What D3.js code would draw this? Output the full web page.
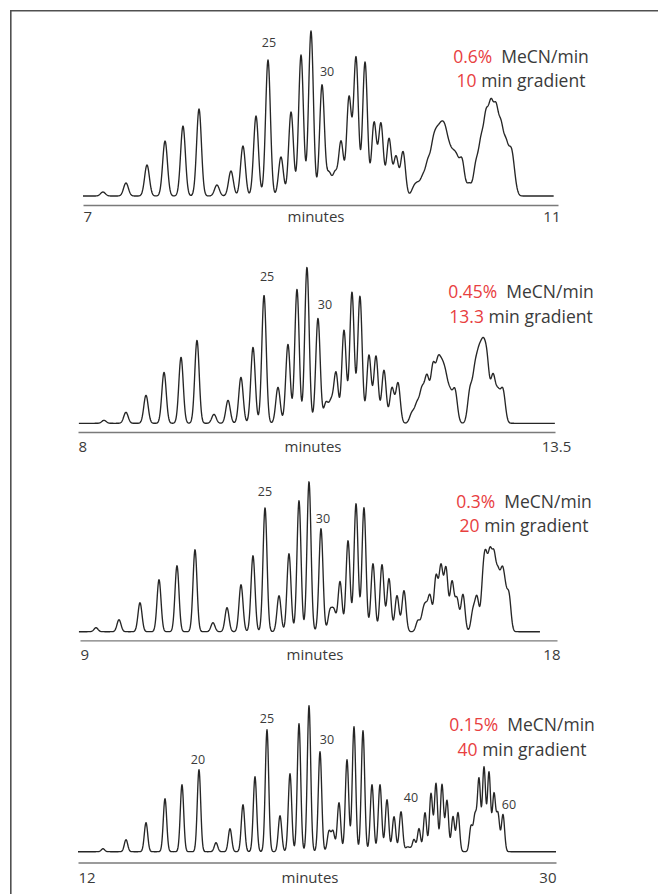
<!DOCTYPE html>
<html><head><meta charset="utf-8">
<script src="https://cdn.jsdelivr.net/npm/d3@7"></script>
<style>body{margin:0;background:#fff} svg{display:block}</style>
</head><body>
<svg id="chart" width="658" height="894"></svg>
<script>
// ---------------- DATA (minutes / detector response, arbitrary units) ----------------
const run1Domain = [7, 11];
const run1Trace = [7.0, 10.964];
const run1PeakTimes = [7.168, 7.362, 7.539, 7.691, 7.842, 7.977, 8.128, 8.246, 8.347, 8.457, 8.558, 8.667, 8.752, 8.836, 8.920, 9.013, 9.072, 9.122, 9.173, 9.240, 9.299, 9.375, 9.451, 9.509, 9.577, 9.636, 9.695];
const run1PeakHeights = [4, 13, 31, 55, 70, 87, 11, 25, 50, 80, 136, 39, 84, 141, 165, 111, 22, 22, 54, 98, 138, 134, 73, 72, 57, 39, 44];
const run1PeakWidth = 0.0202;
const run1ClusterTimes = [9.787, 9.821, 9.863, 9.905, 9.947, 9.981, 10.015, 10.048, 10.082, 10.116, 10.149, 10.192, 10.251, 10.309, 10.352, 10.394, 10.436, 10.478, 10.520, 10.562, 10.604, 10.629];
const run1ClusterHeights = [8, 10, 17, 30, 42, 45, 48, 48, 34, 29, 29, 34, 12, 30, 48, 70, 78, 75, 60, 45, 36, 14];
const run1ClusterWidth = 0.021;
const run1LabelText = ["25", "30"];
const run1LabelTimes = [8.558, 9.013];

const run2Domain = [8, 13.5];
const run2Trace = [8.01, 13.5];
const run2PeakTimes = [8.300, 8.553, 8.784, 8.992, 9.188, 9.372, 9.568, 9.730, 9.879, 10.018, 10.145, 10.306, 10.421, 10.525, 10.640, 10.767, 10.859, 10.917, 10.975, 11.067, 11.159, 11.251, 11.355, 11.436, 11.528, 11.620, 11.690];
const run2PeakHeights = [3, 11, 28, 51, 66, 83, 9, 23, 46, 76, 128, 36, 79, 134, 156, 105, 20, 20, 50, 93, 131, 127, 68, 67, 53, 35, 40];
const run2PeakWidth = 0.0254;
const run2ClusterTimes = [11.851, 11.909, 11.966, 12.024, 12.093, 12.151, 12.197, 12.240, 12.290, 12.347, 12.520, 12.577, 12.624, 12.670, 12.716, 12.785, 12.843, 12.900];
const run2ClusterHeights = [10, 18, 31, 44, 54, 52, 42, 36, 26, 32, 32, 46, 54, 60, 56, 45, 28, 32];
const run2ClusterWidth = 0.027;
const run2LabelText = ["25", "30"];
const run2LabelTimes = [10.145, 10.767];

const run3Domain = [9, 18];
const run3Trace = [8.98, 17.68];
const run3PeakTimes = [9.302, 9.736, 10.132, 10.491, 10.830, 11.170, 11.509, 11.774, 12.038, 12.264, 12.491, 12.755, 12.943, 13.132, 13.321, 13.547, 13.717, 13.792, 13.906, 14.057, 14.208, 14.358, 14.528, 14.698, 14.830, 14.981, 15.113];
const run3PeakHeights = [4, 12, 29, 52, 66, 82, 9, 24, 47, 76, 124, 36, 78, 131, 150, 103, 20, 20, 50, 91, 128, 124, 68, 67, 53, 36, 41];
const run3PeakWidth = 0.0377;
const run3ClusterTimes = [15.377, 15.472, 15.528, 15.604, 15.717, 15.811, 15.906, 16.019, 16.113, 16.226, 16.415, 16.491, 16.604, 16.660, 16.736, 16.811, 16.887, 16.962, 17.019, 17.094];
const run3ClusterHeights = [11, 16, 20, 34, 54, 63, 62, 49, 32, 37, 20, 33, 45, 58, 68, 66, 50, 48, 33, 35];
const run3ClusterWidth = 0.0377;
const run3LabelText = ["25", "30"];
const run3LabelTimes = [12.491, 13.547];

const run4Domain = [12, 30];
const run4Trace = [12.0, 30.0];
const run4PeakTimes = [12.941, 13.808, 14.561, 15.276, 15.916, 16.556, 17.197, 17.724, 18.213, 18.665, 19.117, 19.607, 19.983, 20.322, 20.699, 21.113, 21.452, 21.603, 21.828, 22.130, 22.393, 22.732, 23.071, 23.372, 23.636, 23.900, 24.163, 24.389, 24.502];
const run4PeakHeights = [3, 12, 29, 53, 67, 82, 9, 23, 47, 75, 122, 36, 78, 128, 146, 100, 20, 20, 49, 92, 125, 121, 67, 67, 52, 35, 40, 4, 3];
const run4PeakWidth = 0.064;
const run4ClusterTimes = [24.653, 24.841, 25.067, 25.293, 25.481, 25.707, 25.895, 26.121, 26.310, 26.799, 26.950, 27.100, 27.289, 27.477, 27.665, 27.816, 28.004];
const run4ClusterHeights = [12, 23, 39, 58, 68, 67, 51, 35, 39, 25, 35, 72, 84, 79, 57, 37, 37];
const run4ClusterWidth = 0.060;
const run4LabelText = ["20", "25", "30", "40", "60"];
const run4LabelTimes = [16.556, 19.117, 21.113, 24.163, 28.004];

const rateLabels = ["0.6%", "0.45%", "0.3%", "0.15%"];
const gradientLabels = ["10", "13.3", "20", "40"];
const rateUnit = "MeCN/min";
const gradientUnit = "min gradient";
const axisTitle = "minutes";

// ---------------- LAYOUT ----------------
const RED = "#e8403f", INK = "#262626", TXT = "#3a3a3a";
const FONT = "'Open Sans', 'Noto Sans', sans-serif";
const svg = d3.select("#chart");

// frame (top and left rules)
svg.append("line").attr("x1", 10.5).attr("x2", 658).attr("y1", 10.8).attr("y2", 10.8)
  .attr("stroke", "#505050").attr("stroke-width", 1.6);
svg.append("line").attr("x1", 10.8).attr("x2", 10.8).attr("y1", 10).attr("y2", 894)
  .attr("stroke", "#505050").attr("stroke-width", 1.6);

const runs = [
  {dom: run1Domain, trace: run1Trace, pt: run1PeakTimes, ph: run1PeakHeights, pw: run1PeakWidth,
   ct: run1ClusterTimes, ch: run1ClusterHeights, cw: run1ClusterWidth, lt: run1LabelText, lx: run1LabelTimes,
   x0: 83, x1: 558, base: 196, axisY: 205, tickY: 222, titleX: 316, lastAnchor: "end", lastDx: 2,
   annX: 521, annY1: 63, annY2: 87, off: [[1, 13], [5, 9]]},
  {dom: run2Domain, trace: run2Trace, pt: run2PeakTimes, ph: run2PeakHeights, pw: run2PeakWidth,
   ct: run2ClusterTimes, ch: run2ClusterHeights, cw: run2ClusterWidth, lt: run2LabelText, lx: run2LabelTimes,
   x0: 78, x1: 555, base: 423.3, axisY: 432, tickY: 452, titleX: 313, lastAnchor: "middle", lastDx: 1,
   annX: 521, annY1: 298, annY2: 323, off: [[3, 14], [7, 9]]},
  {dom: run3Domain, trace: run3Trace, pt: run3PeakTimes, ph: run3PeakHeights, pw: run3PeakWidth,
   ct: run3ClusterTimes, ch: run3ClusterHeights, cw: run3ClusterWidth, lt: run3LabelText, lx: run3LabelTimes,
   x0: 80, x1: 557, base: 631.7, axisY: 640.3, tickY: 660, titleX: 315, lastAnchor: "end", lastDx: 3,
   annX: 524, annY1: 508, annY2: 532, off: [[0, 12], [2, 6]]},
  {dom: run4Domain, trace: run4Trace, pt: run4PeakTimes, ph: run4PeakHeights, pw: run4PeakWidth,
   ct: run4ClusterTimes, ch: run4ClusterHeights, cw: run4ClusterWidth, lt: run4LabelText, lx: run4LabelTimes,
   x0: 78, x1: 556, base: 851.7, axisY: 862.5, tickY: 883, titleX: 310, lastAnchor: "end", lastDx: 0,
   annX: 522, annY1: 731, annY2: 756, off: [[-1, 6], [0, 7], [7, 8], [10, 10], [6, 5]]}
];

runs.forEach((r, i) => {
  const x = d3.scaleLinear().domain(r.dom).range([r.x0, r.x1]);
  const y = d3.scaleLinear().domain([0, 170]).range([r.base, r.base - 170]);
  const peaks = r.pt.map((t, k) => ({t, h: r.ph[k], w: r.pw}))
    .concat(r.ct.map((t, k) => ({t, h: r.ch[k], w: r.cw})));
  const signal = t => d3.sum(peaks, p => p.h * Math.exp(-((t - p.t) ** 2) / (2 * p.w * p.w)));
  const step = (r.dom[1] - r.dom[0]) / ((r.x1 - r.x0) * 3);
  const ts = d3.range(r.trace[0], r.trace[1] + step / 2, step);
  const pts = ts.map(t => ({t, v: signal(t)}));

  const g = svg.append("g");

  // axis
  const axis = d3.axisBottom(x).tickValues(r.dom).tickSize(0).tickSizeOuter(0).tickPadding(0)
    .tickFormat(d3.format("~g"));
  const ag = g.append("g").attr("transform", `translate(0,${r.axisY})`).call(axis);
  ag.select(".domain").attr("stroke", "#7a7a7a").attr("stroke-width", 1.3);
  ag.selectAll(".tick text")
    .attr("font-family", FONT).attr("font-size", 15).attr("fill", TXT)
    .attr("y", r.tickY - r.axisY).attr("dy", 0)
    .attr("text-anchor", (d, k) => k === 0 ? "start" : r.lastAnchor)
    .attr("dx", (d, k) => k === 0 ? 0 : r.lastDx);
  g.append("text").attr("x", r.titleX).attr("y", r.tickY)
    .attr("text-anchor", "middle").attr("font-family", FONT).attr("font-size", 15)
    .attr("fill", TXT).text(axisTitle);

  // trace
  g.append("path").datum(pts)
    .attr("d", d3.line().x(d => x(d.t)).y(d => y(d.v)))
    .attr("fill", "none").attr("stroke", INK).attr("stroke-width", 1.35)
    .attr("stroke-linejoin", "round");

  // peak labels
  r.lt.forEach((txt, k) => {
    const t = r.lx[k];
    g.append("text").attr("x", x(t) + r.off[k][0]).attr("y", y(signal(t)) - r.off[k][1])
      .attr("text-anchor", "middle").attr("font-family", FONT).attr("font-size", 12.5)
      .attr("fill", TXT).text(txt);
  });

  // annotation
  const a1 = g.append("text").attr("x", r.annX).attr("y", r.annY1).attr("text-anchor", "middle")
    .attr("font-family", FONT).attr("font-size", 17.5);
  a1.append("tspan").attr("fill", RED).text(rateLabels[i]);
  a1.append("tspan").attr("fill", TXT).attr("dx", 9).text(rateUnit);
  const a2 = g.append("text").attr("x", r.annX).attr("y", r.annY2).attr("text-anchor", "middle")
    .attr("font-family", FONT).attr("font-size", 17.5);
  a2.append("tspan").attr("fill", RED).text(gradientLabels[i]);
  a2.append("tspan").attr("fill", TXT).text(" " + gradientUnit);
});
</script>
</body></html>
